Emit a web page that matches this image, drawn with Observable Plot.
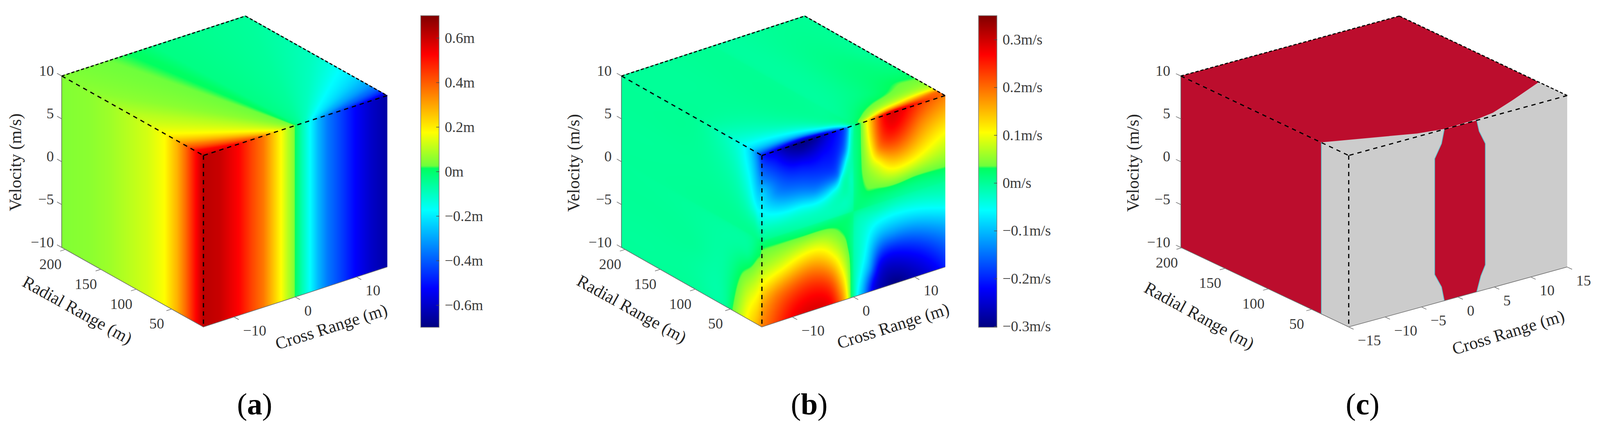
<!DOCTYPE html>
<html><head><meta charset="utf-8">
<script src="https://cdn.jsdelivr.net/npm/d3@7"></script>
<script src="https://cdn.jsdelivr.net/npm/@observablehq/plot@0.6"></script>
<style>html,body{margin:0;padding:0;background:#fff;overflow:hidden}#row{display:flex;width:100%;height:1106px}#row svg{display:block;flex:none}</style>
</head><body><div id="row"></div>
<script>
// ---------- axis ticks ----------
const velocityTicks = [-10, -5, 0, 5, 10];
const radialTicks = [50, 100, 150, 200];
const crossTicksAB = [-10, 0, 10];
const crossTicksC = [-15, -10, -5, 0, 5, 10, 15];
const barTicksA = [-0.6, -0.4, -0.2, 0, 0.2, 0.4, 0.6];
const barTicksB = [-0.3, -0.2, -0.1, 0, 0.1, 0.2, 0.3];

// ---------- panel (a): range error, metres ----------
const radialA = [5, 7, 18, 30, 42, 60, 84, 112, 136, 166, 205];
const leftA = [0.62, 0.6, 0.5, 0.38, 0.28, 0.175, 0.13, 0.1, 0.075, 0.055, 0.045];
const crossA = [-15, -12.3, -9.1, -7.3, -5.2, -3.8, -2.4, -1.2, -0.3, 0, 1.1, 2.5, 3.7, 5.3, 7.8, 9.9, 12.4, 15];
const rightA = [0.62, 0.6, 0.52, 0.44, 0.36, 0.27, 0.18, 0.1, 0.05, 0.01, -0.08, -0.18, -0.27, -0.36, -0.45, -0.53, -0.6, -0.65];
const topA = [ // contour read from the top face: level, cross at r=5, cross at end, radial at end
  [0.62, -15, -25, 7], [0.6, -12.3, -15, 7], [0.525, -9, -15, 17], [0.35, -5.2, -15, 33],
  [0.175, -2.4, -15, 60], [0.1, -1.2, -15, 112], [0.055, -0.3, -15, 166], [0.045, -0.15, -15, 205],
  [0.023, 0, -6.6, 205], [0.01, 0.1, -3, 205], [-0.028, 0.4, 0, 205], [-0.056, 0.7, 15, 205],
  [-0.1, 1.6, 15, 111], [-0.175, 2.5, 15, 72], [-0.27, 3.7, 15, 40], [-0.36, 5.3, 15, 25],
  [-0.45, 7.8, 15, 15], [-0.525, 9.9, 15, 10], [-0.6, 12.4, 15, 7], [-0.65, 15, 25, 7]
];

// ---------- panel (b): velocity error, m/s ----------
const rightB = [ // level, [cross, velocity]...
  [0.29, [[6.4, 10], [-6, -10]]],
  [0.2685, [[5, 10], [6.5, 8.3], [8.5, 10], [-9.9, -9.6], [-5.9, -8.4], [-3.8, -9.6]]],
  [0.187, [[3.4, 10], [4.2, 6.5], [7.6, 5.6], [11, 7.9], [15, 10], [-15, -10], [-12.7, -6.9], [-7.4, -5.3], [-3.36, -6.85], [-2.3, -8.8], [-1.9, -10]]],
  [0.1055, [[2.2, 10], [2.8, 6.6], [4.2, 4.66], [6.5, 3.46], [9.8, 3.7], [15, 5.7], [-15, -5], [-11.6, -4], [-5.9, -3.1], [-3.4, -4.3], [-2, -6.1], [-1, -10]]],
  [0.034, [[1.15, 10], [1.4, 4.3], [2.4, 2], [4.2, 1.77], [9.8, 1.77], [15, 1.67], [-15, -1], [-10.6, -1], [-4.2, -1.1], [-2, -2.1], [-1.2, -3.2], [-0.7, -5], [-0.47, -10]]],
  [0.02, [[0.6, 10], [0.8, 4], [1.5, 1.2], [4, 1.1], [15, 1], [-15, -0.2], [-8, -0.6], [-4, -0.6], [-1, -0.8], [-0.6, -4], [-0.3, -10]]],
  [0.015, [[0.3, 0.3]]],
  [-0.02, [[-15, 1.5], [-8, 0.9], [-4, 0.8], [-1.5, 1.5], [-0.5, 4], [-0.1, 10], [0.2, -10], [0.4, -4], [1, -1.2], [4, -0.8], [15, -1.3]]],
  [-0.0575, [[-15, 3.4], [-8.4, 2.5], [-5.5, 2.4], [-3.4, 3.1], [-2.05, 4.4], [-1.2, 6.2], [-0.58, 9.7], [0.68, -9.6], [1.1, -7.9], [1.55, -6.5], [2.2, -4.2], [3.46, -2.4], [6.4, -1.9], [15, -3.1]]],
  [-0.09, [[-15, 5.8]]],
  [-0.13, [[-15, 7], [-12.7, 5.1], [-6.3, 3.8], [-2.5, 4.7], [-1.43, 7.3], [-1, 10], [1.8, -10], [2.05, -8.9], [2.8, -7.4], [3.9, -4.9], [6.4, -4.2], [15, -6]]],
  [-0.2, [[-15, 10], [15, -10]]],
  [-0.22, [[-14.4, 10], [-12.7, 9.16], [-8.43, 7.57], [-5.04, 7.83], [-3.34, 9.24], [-3, 10], [3, -10], [3.2, -9.2], [4.3, -7.1], [6.4, -6.4], [10.7, -7.6], [14, -10]]],
  [-0.28, [[-11, 10], [-8.4, 9.2], [-6, 10], [5, -10], [7, -9], [9, -10]]],
  [-0.3, [[-8.4, 10], [7, -10]]]
];
const leftB = [ // level, [radial, velocity]...
  [-0.2, [[5, 10]]],
  [-0.13, [[5, 7], [13, 10]]],
  [-0.09, [[5, 5.8]]],
  [-0.0575, [[5, 3.4], [11, 3.4], [16, 4.2], [23.4, 6.9], [29, 8.9], [30, 10]]],
  [-0.02, [[5, 1.5], [15, 2.2], [40, 6], [60, 10]]],
  [-0.005, [[30, 2], [60, 5], [80, 8], [35, -1], [60, -5], [80, -10]]],
  [0, [[100, 10], [150, 10], [205, 10], [60, 0], [100, 5], [150, 5], [205, 5], [100, 0], [150, 0], [205, 0], [100, -5], [150, -5], [205, -5], [100, -10], [150, -10], [205, -10]]],
  [0.005, [[18, 0], [25, -2.5], [55, -10]]],
  [0.02, [[5, -0.2], [10, -1]]],
  [0.034, [[5, -1], [8, -2], [32.6, -5], [47, -10]]],
  [0.1055, [[5, -5], [9, -6], [23, -8.7], [27, -10]]],
  [0.187, [[5, -10]]]
];
const topB = [ // level, [cross, radial]...
  [-0.2, [[-15, 5]]],
  [-0.22, [[-14.4, 5], [-11, 9], [-8, 11], [-5, 9], [-3, 5]]],
  [-0.28, [[-11, 5], [-8, 7], [-6, 5]]],
  [-0.3, [[-8.4, 5]]],
  [-0.13, [[-15, 13], [-10, 16], [-5, 13], [-1, 5]]],
  [-0.0575, [[-0.58, 5], [-1, 8], [-7.8, 25.7], [-12, 30], [-15, 30]]],
  [-0.02, [[-15, 60], [-8, 42], [-3, 22], [-0.1, 5]]],
  [0, [[-15, 100], [-15, 150], [-8, 100], [-8, 150], [-5, 60], [-1, 40], [0.3, 5], [0, 110], [0, 150], [5, 110], [-15, 205], [-8, 205], [0, 205], [8, 205], [15, 205], [15, 150], [15, 110]]],
  [0.012, [[12, 100]]],
  [0.02, [[0.6, 5], [3, 25], [8, 45], [15, 60]]],
  [0.034, [[1.15, 5], [6.4, 31], [12.6, 49], [15, 47]]],
  [0.1055, [[2.2, 5], [3.8, 10.8], [8.9, 18.6], [15, 22]]],
  [0.187, [[3.4, 5], [8.2, 12.4], [15, 16]]],
  [0.19, [[15, 5]]],
  [0.2, [[15, 10]]],
  [0.2685, [[5, 5], [6.5, 8], [8.5, 5]]],
  [0.29, [[6.4, 5]]]
];

// ---------- panel (c): detection region boundaries ----------
const bandLeft = [[-1.88, -10], [-2.26, -8.3], [-3.2, -6.64], [-3.2, 6.87], [-2.26, 8.42], [-1.88, 10]]; // cross, velocity
const bandRight = [[2.58, -10], [3.15, -8.27], [3.76, -7.13], [3.76, 7.02], [2.91, 8.66], [2.58, 10]];
const leftEdgeRadial = 38.6;
const topCurve = [[-15, 39], [-5, 12], [-1.8, 7.5], [2.8, 8.6], [5.4, 12], [9.2, 22.4], [15, 39.8]]; // cross, radial

// ---------- jet colour map with the reference's step just above its centre ----------
const jetStops = [0, 0.125, 0.375, 0.51, 0.518, 0.625, 0.875, 1];
const jetColors = ["#000080", "#0000ff", "#00ffff", "#00ff60", "#6eff3c", "#ffff00", "#ff0000", "#800000"];
const jetScale = d3.scaleLinear().domain(jetStops).range(jetColors).interpolate(d3.interpolateRgb).clamp(true);
const jet = (t) => jetScale(t);

const serif = "Liberation Serif";
const grey = "#3a3a3a";
// the browser window can be narrower than the 4172 px layout: fit the x scales to it
const fit = Math.min(1, (window.innerWidth || 4172) / 4172);
let clipId = 0;

// smooth surface through the samples, in warped coordinates
function surface(list, warpA, warpB) {
  const seen = new Set(), P = [], V = [];
  for (const [level, pts] of list) for (const [a, b] of pts) {
    const key = a + "," + b;
    if (seen.has(key)) continue;
    seen.add(key);
    P.push([warpA(a), warpB(b)]);
    V.push(level);
  }
  const n = P.length, m = n + 3;
  const U = (d2) => (d2 > 1e-12 ? d2 * Math.log(d2) : 0);
  const A = Array.from({length: m}, () => new Float64Array(m + 1));
  for (let i = 0; i < n; ++i) {
    for (let j = 0; j < n; ++j) {
      A[i][j] = U((P[i][0] - P[j][0]) ** 2 + (P[i][1] - P[j][1]) ** 2);
    }
    A[i][i] += 0.002;
    A[i][n] = A[n][i] = 1;
    A[i][n + 1] = A[n + 1][i] = P[i][0];
    A[i][n + 2] = A[n + 2][i] = P[i][1];
    A[i][m] = V[i];
  }
  for (let c = 0; c < m; ++c) {
    let p = c;
    for (let i = c + 1; i < m; ++i) if (Math.abs(A[i][c]) > Math.abs(A[p][c])) p = i;
    [A[c], A[p]] = [A[p], A[c]];
    for (let i = c + 1; i < m; ++i) {
      const f = A[i][c] / A[c][c];
      if (f) for (let j = c; j <= m; ++j) A[i][j] -= f * A[c][j];
    }
  }
  const W = new Float64Array(m);
  for (let i = m - 1; i >= 0; --i) {
    let s = A[i][m];
    for (let j = i + 1; j < m; ++j) s -= A[i][j] * W[j];
    W[i] = s / A[i][i];
  }
  const PX = P.map((p) => p[0]), PY = P.map((p) => p[1]);
  return (a, b) => {
    const x = warpA(a), y = warpB(b);
    let s = W[n] + W[n + 1] * x + W[n + 2] * y;
    for (let i = 0; i < n; ++i) {
      const dx = x - PX[i], dy = y - PY[i], d2 = dx * dx + dy * dy;
      if (d2 > 1e-12) s += W[i] * d2 * Math.log(d2);
    }
    return s;
  };
}
const rootWarp = (c) => Math.sign(c) * Math.sqrt(Math.abs(c));
const logWarp = (r) => 1.5 * Math.log(Math.max(r, 1));

// top face of (a): between neighbouring contour lines at the same radial range
function fanField(rows) {
  const K = rows.map(([v, c0, cE, rE]) => ({v, c0, k: (cE - c0) / (rE - 5)})).sort((p, q) => q.v - p.v);
  return (c, r) => {
    const R = Math.max(r, 5) - 5;
    let prevC = K[0].c0 + K[0].k * R, prevV = K[0].v;
    if (c <= prevC) return prevV;
    for (let i = 1; i < K.length; ++i) {
      const ci = K[i].c0 + K[i].k * R, vi = K[i].v;
      if (c <= ci) return prevV + ((vi - prevV) * (c - prevC)) / (ci - prevC);
      prevC = ci; prevV = vi;
    }
    return prevV;
  };
}

function panel(o) {
  const {x0, w, F, C, R, H, r0, r1} = o;
  const X = (c, r) => F[0] + ((c + 15) / 30) * C[0] + ((r - r0) / (r1 - r0)) * R[0];
  const Y = (c, r, v) => F[1] + ((c + 15) / 30) * C[1] + ((r - r0) / (r1 - r0)) * R[1] - ((v + 10) / 20) * H;
  const pt = (c, r, v) => ({px: X(c, r), py: Y(c, r, v)});
  const faceLeft = [pt(-15, r1, 10), pt(-15, r0, 10), pt(-15, r0, -10), pt(-15, r1, -10)];
  const faceRight = [pt(-15, r0, 10), pt(15, r0, 10), pt(15, r0, -10), pt(-15, r0, -10)];
  const faceTop = [pt(-15, r1, 10), pt(15, r1, 10), pt(15, r0, 10), pt(-15, r0, 10)];

  const clip = (poly) => (i, s, v, d, c, next) => {
    const el = next(i, s, v, d, c);
    const mx = d3.mean(poly, (q) => q.px), my = d3.mean(poly, (q) => q.py);
    const pts = poly.map((q) => `${s.x(mx + (q.px - mx) * 1.004)},${s.y(my + (q.py - my) * 1.004)}`).join(" ");
    const ns = "http://www.w3.org/2000/svg";
    const g = document.createElementNS(ns, "g");
    const cp = document.createElementNS(ns, "clipPath");
    const id = "face" + ++clipId;
    cp.setAttribute("id", id);
    const pg = document.createElementNS(ns, "polygon");
    pg.setAttribute("points", pts);
    cp.append(pg);
    g.append(cp);
    g.setAttribute("clip-path", `url(#${id})`);
    g.append(el);
    return g;
  };
  const rasterFace = (poly, fill) =>
    Plot.raster({
      x1: Math.floor(d3.min(poly, (q) => q.px)) - 2, x2: Math.ceil(d3.max(poly, (q) => q.px)) + 2,
      y1: Math.floor(d3.min(poly, (q) => q.py)) - 2, y2: Math.ceil(d3.max(poly, (q) => q.py)) + 2,
      fill, render: clip(poly)
    });

  const marks = [];
  if (o.fields) {
    const {left, right, top} = o.fields;
    const inR = (x) => r0 + ((x - F[0]) / R[0]) * (r1 - r0);
    const inC = (x) => -15 + ((x - F[0]) / C[0]) * 30;
    const eps = 0.02;
    marks.push(rasterFace(faceLeft, (x, y) => {
      const t = (x - F[0]) / R[0];
      if (t < -eps || t > 1 + eps) return NaN;
      const r = inR(x), v = -10 + ((F[1] + t * R[1] - y) / H) * 20;
      if (v < -10.6 || v > 10.6) return NaN;
      return left(r, Math.max(-10, Math.min(10, v)));
    }));
    marks.push(rasterFace(faceRight, (x, y) => {
      const t = (x - F[0]) / C[0];
      if (t < -eps || t > 1 + eps) return NaN;
      const c = inC(x), v = -10 + ((F[1] + t * C[1] - y) / H) * 20;
      if (v < -10.6 || v > 10.6) return NaN;
      return right(c, Math.max(-10, Math.min(10, v)));
    }));
    const det = C[0] * R[1] - R[0] * C[1];
    marks.push(rasterFace(faceTop, (x, y) => {
      const dx = x - F[0], dy = y - (F[1] - H);
      const u = (dx * R[1] - R[0] * dy) / det, t = (C[0] * dy - C[1] * dx) / det;
      if (u < -eps || u > 1 + eps || t < -eps || t > 1 + eps) return NaN;
      return top(-15 + 30 * Math.max(0, Math.min(1, u)), r0 + (r1 - r0) * Math.max(0, Math.min(1, t)));
    }));
  } else {
    const gray = "#cccccc", red = "#bc0d2d", rim = "#63c4cf";
    const fillPoly = (p, fill) => Plot.line(p, {x: "px", y: "py", fill, stroke: "none", curve: "linear-closed"});
    const redLeft = [pt(-15, r1, 10), pt(-15, leftEdgeRadial, 10), pt(-15, leftEdgeRadial, -10), pt(-15, r1, -10)];
    const redTop = [pt(-15, r1, 10), pt(15, r1, 10), ...topCurve.slice().reverse().map(([c, r]) => pt(c, r, 10))];
    const redRight = [...bandLeft.map(([c, v]) => pt(c, r0, v)), ...bandRight.slice().reverse().map(([c, v]) => pt(c, r0, v))];
    marks.push(fillPoly(faceLeft, gray), fillPoly(faceRight, gray), fillPoly(faceTop, gray));
    marks.push(fillPoly(redLeft, red), fillPoly(redTop, red), fillPoly(redRight, red));
    const rimLine = (p) => Plot.line(p, {x: "px", y: "py", stroke: rim, strokeWidth: 1.8});
    marks.push(rimLine(bandLeft.map(([c, v]) => pt(c, r0, v))), rimLine(bandRight.map(([c, v]) => pt(c, r0, v))));
    marks.push(rimLine([pt(-15, leftEdgeRadial, 10), pt(-15, leftEdgeRadial, -10)]));
  }

  // solid axis edges
  const link = (a, b) => ({x1: a.px, y1: a.py, x2: b.px, y2: b.py});
  const solid = [
    link(pt(-15, r1, 10), pt(-15, r1, -10)),
    link(pt(-15, r1, -10), pt(-15, r0, -10)),
    link(pt(-15, r0, -10), pt(15, r0, -10))
  ];
  marks.push(Plot.link(solid, {x1: "x1", y1: "y1", x2: "x2", y2: "y2", stroke: "#6e6e6e", strokeWidth: 1.6}));

  // dashed cube edges
  const fine = [link(pt(-15, r1, 10), pt(15, r1, 10)), link(pt(15, r1, 10), pt(15, r0, 10))];
  const coarse = [link(pt(-15, r1, 10), pt(-15, r0, 10)), link(pt(15, r0, 10), pt(-15, r0, 10)), link(pt(-15, r0, 10), pt(-15, r0, -10))];
  marks.push(Plot.link(fine, {x1: "x1", y1: "y1", x2: "x2", y2: "y2", stroke: "#000", strokeWidth: 2.8, strokeDasharray: "8,5"}));
  marks.push(Plot.link(coarse, {x1: "x1", y1: "y1", x2: "x2", y2: "y2", stroke: "#000", strokeWidth: 3, strokeDasharray: "11,10"}));

  // ticks (each runs outward along the neighbouring axis)
  const Clen = Math.hypot(C[0], C[1]), Rlen = Math.hypot(R[0], R[1]);
  const tk = 14;
  const vt = velocityTicks.map((v) => { const a = pt(-15, r1, v); return {...a, x2: a.px + (R[0] / Rlen) * tk, y2: a.py + (R[1] / Rlen) * tk, v}; });
  const rt = radialTicks.map((r) => { const a = pt(-15, r, -10); return {...a, x2: a.px - (C[0] / Clen) * tk, y2: a.py - (C[1] / Clen) * tk, r}; });
  const ct = o.crossTicks.map((c) => { const a = pt(c, r0, -10); return {...a, x2: a.px - (R[0] / Rlen) * tk, y2: a.py - (R[1] / Rlen) * tk, c}; });
  for (const t of [vt, rt, ct]) marks.push(Plot.link(t, {x1: "px", y1: "py", x2: "x2", y2: "y2", stroke: "#6e6e6e", strokeWidth: 1.5}));

  const label = (d, opts) => Plot.text(d, {x: "px", y: "py", fontSize: 38, fill: grey, lineAnchor: "middle", ...opts});
  const fmt = (n) => String(n).replace("-", "\u2212");
  marks.push(label(vt, {text: (d) => fmt(d.v), dx: o.velDx, dy: -13, textAnchor: "end"}));
  marks.push(label(rt, {text: (d) => fmt(d.r), dx: -38, dy: 38, textAnchor: "middle"}));
  marks.push(label(ct, {text: (d) => fmt(d.c), dx: 23, dy: 35, textAnchor: "start"}));

  // axis titles
  const title = (t, x, y, rotate) => Plot.text([t], {x: () => x, y: () => y, text: (d) => d, rotate, fontSize: 44, fill: "#262626", textAnchor: "middle", lineAnchor: "middle"});
  marks.push(title("Velocity (m/s)", ...o.tVel, -90), title("Radial Range (m)", ...o.tRad, o.rotR), title("Cross Range (m)", ...o.tCross, o.rotC));

  // colour bar
  if (o.bar) {
    const {x1, x2, y1, y2, domain, ticks, unit, lx} = o.bar;
    const yOf = (v) => y1 + ((domain[1] - v) / (domain[1] - domain[0])) * (y2 - y1);
    const n = y2 - y1;
    const cells = d3.range(n).map((i) => ({v: domain[0] + ((domain[1] - domain[0]) * (i + 0.5)) / n, a: y2 - i, b: y2 - i - 1}));
    marks.push(Plot.rect(cells, {x1: () => x1, x2: () => x2, y1: "a", y2: "b", fill: "v", shapeRendering: "crispEdges"}));
    marks.push(Plot.rect([0], {x1: () => x1, x2: () => x2, y1: () => y1, y2: () => y2, fill: "none", stroke: "#808080", strokeWidth: 1.6}));
    const tv = ticks.map((v) => ({v, px: x2, py: yOf(v), x2: x2 - 8}));
    marks.push(Plot.link(tv, {x1: "px", y1: "py", x2: "x2", y2: "py", stroke: "#4a4a4a", strokeWidth: 1.5}));
    marks.push(Plot.text(tv, {x: () => lx, y: "py", text: (d) => fmt(d.v) + unit, fontSize: 38, fill: grey, textAnchor: "start", lineAnchor: "middle"}));
  }

  // caption
  const capY = 1036, half = o.capW / 2;
  marks.push(Plot.text(["("], {x: () => o.capX - half, y: () => capY, text: (d) => d, fontSize: 78, fill: "#000", textAnchor: "end", lineAnchor: "middle"}));
  marks.push(Plot.text([")"], {x: () => o.capX + half, y: () => capY, text: (d) => d, fontSize: 78, fill: "#000", textAnchor: "start", lineAnchor: "middle"}));
  marks.push(Plot.text([o.cap], {x: () => o.capX, y: () => capY, text: (d) => d, fontSize: 78, fontWeight: "bold", fill: "#000", textAnchor: "middle", lineAnchor: "middle"}));

  return Plot.plot({
    width: w * fit, height: 1106, margin: 0,
    style: {fontFamily: serif, background: "#fff"},
    x: {domain: [x0, x0 + w], range: [0, w * fit], axis: null},
    y: {domain: [0, 1106], range: [0, 1106], axis: null},
    color: o.colorDomain ? {type: "linear", domain: o.colorDomain, interpolate: jet, clamp: true} : undefined,
    marks
  });
}

const row = document.getElementById("row");
const leftAScale = d3.scaleLinear().domain(radialA).range(leftA).clamp(true);
const rightAScale = d3.scaleLinear().domain(crossA).range(rightA).clamp(true);
row.append(panel({
  x0: 0, w: 1400, F: [530, 836.6], C: [479, -153.5], R: [-369.5, -203.6], H: 439, r0: 5, r1: 205,
  crossTicks: crossTicksAB, velDx: -20,
  tVel: [40, 415], tRad: [201, 794], tCross: [863.5, 836.6], rotR: 29, rotC: -17.6,
  capX: 663.5, capW: 39, cap: "a",
  colorDomain: [-0.7, 0.7],
  bar: {x1: 1097, x2: 1145, y1: 40, y2: 838, domain: [-0.7, 0.7], ticks: barTicksA, unit: "m", lx: 1159},
  fields: {left: (r) => leftAScale(r), right: (c) => rightAScale(c), top: fanField(topA)}
}));
row.append(panel({
  x0: 1400, w: 1372, F: [1986.7, 836.6], C: [477.8, -153.5], R: [-366.1, -203.6], H: 439, r0: 5, r1: 205,
  crossTicks: crossTicksAB, velDx: -25,
  tVel: [1496, 416.5], tRad: [1647, 791], tCross: [2329, 834.5], rotR: 29, rotC: -17.6,
  capX: 2110, capW: 43, cap: "b",
  colorDomain: [-0.302, 0.35],
  bar: {x1: 2552, x2: 2600, y1: 40, y2: 838, domain: [-0.302, 0.35], ticks: barTicksB, unit: "m/s", lx: 2614},
  fields: {
    left: surface(leftB, logWarp, rootWarp),
    right: surface(rightB, rootWarp, rootWarp),
    top: surface(topB, rootWarp, logWarp)
  }
}));
row.append(panel({
  x0: 2772, w: 1400, F: [3516.8, 836.6], C: [569.7, -153.5], R: [-437.8, -203.6], H: 439, r0: 7, r1: 201,
  crossTicks: crossTicksC, velDx: -27,
  tVel: [2955, 416.5], tRad: [3127, 808], tCross: [3933, 851], rotR: 28.5, rotC: -17.1,
  capX: 3553, capW: 35, cap: "c"
}));
</script></body></html>
